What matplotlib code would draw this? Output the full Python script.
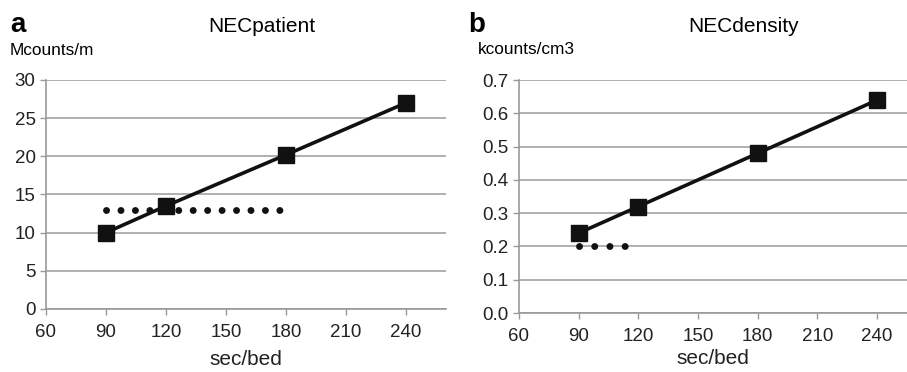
import matplotlib.pyplot as plt

plt.rcParams['font.family'] = ['Liberation Sans', 'DejaVu Sans']

# data
sec_bed = [90, 120, 180, 240]
nec_patient = [10.0, 13.5, 20.2, 27.0]
nec_density = [0.24, 0.32, 0.48, 0.64]
ref_patient_x = [90, 180]
ref_patient_y = [13, 13]
ref_density_x = [90, 115]
ref_density_y = [0.2, 0.2]
x_ticks = [60, 90, 120, 150, 180, 210, 240]
patient_ticks = [0, 5, 10, 15, 20, 25, 30]
density_ticks = [0.0, 0.1, 0.2, 0.3, 0.4, 0.5, 0.6, 0.7]

gris = '#9a9a9a'

fig = plt.figure(figsize=(9.07, 3.72), dpi=100)
ax1 = fig.add_axes([0.0507, 0.1694, 0.441, 0.6156])
ax2 = fig.add_axes([0.572, 0.1586, 0.428, 0.626])


def estilo(ax, yticks, xlim, fmt, lpad):
    ax.set_xlim(*xlim)
    ax.set_ylim(yticks[0], yticks[-1])
    ax.set_xticks(x_ticks)
    ax.set_yticks(yticks)
    ax.set_yticklabels([fmt.format(v) for v in yticks])
    for s in ['top', 'right']:
        ax.spines[s].set_visible(False)
    for s in ['left', 'bottom']:
        ax.spines[s].set_color(gris)
        ax.spines[s].set_linewidth(1.2)
    ax.grid(axis='y', color=gris, linewidth=1.1)
    ax.set_axisbelow(True)
    ax.tick_params(colors=gris, labelcolor='#222222', labelsize=13.5,
                   length=4, width=1)
    ax.tick_params(axis='x', pad=7)
    ax.set_xlabel('sec/bed', fontsize=15, color='#222222', labelpad=lpad)


estilo(ax1, patient_ticks, (60, 260), '{:g}', 6)
estilo(ax2, density_ticks, (60, 255), '{:.1f}', 3)

for ax, y, rx, ry, gap in [(ax1, nec_patient, ref_patient_x, ref_patient_y, 2.07),
                           (ax2, nec_density, ref_density_x, ref_density_y, 2.18)]:
    ax.plot(rx, ry, color='#111111', linewidth=5,
            linestyle=(0, (0.01, gap)), dash_capstyle='round',
            clip_on=False)
    ax.plot(sec_bed, y, color='#111111', linewidth=2.6, marker='s',
            markersize=11.5, clip_on=False, zorder=3)

fig.text(0.011, 0.914, 'a', fontsize=20, fontweight='bold', va='baseline')
fig.text(0.289, 0.914, 'NECpatient', fontsize=15, ha='center', va='baseline')
fig.text(0.011, 0.852, 'Mcounts/m', fontsize=12.4, va='baseline')
fig.text(0.516, 0.914, 'b', fontsize=20, fontweight='bold', va='baseline')
fig.text(0.820, 0.914, 'NECdensity', fontsize=15, ha='center', va='baseline')
fig.text(0.527, 0.855, 'kcounts/cm3', fontsize=12.4, va='baseline')

fig.savefig('out.png', dpi=100)
